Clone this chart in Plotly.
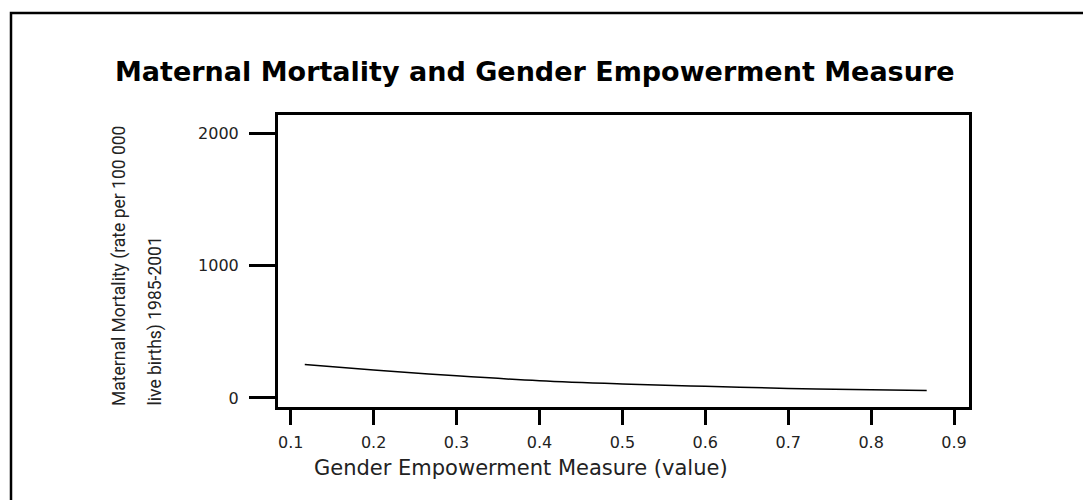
import plotly.graph_objects as go

# fitted curve
gem_value = [0.117, 0.2, 0.3, 0.4, 0.5, 0.6, 0.7, 0.8, 0.867]
maternal_mortality = [252, 212, 167, 130, 106, 88, 72, 62, 57]

x_ticks = [0.1, 0.2, 0.3, 0.4, 0.5, 0.6, 0.7, 0.8, 0.9]
y_ticks = [0, 1000, 2000]

# page body adds ~8px, so everything is laid out 8px up/left
OFF = 8
W, H = 1091, 500
L, R, T, B = 278 - OFF, 1091 - 969 + OFF, 115 - OFF, 500 - 407 + OFF


def px_x(p):
    return (p - OFF - L) / (W - L - R)


def px_y(p):
    return (H - B - (p - OFF)) / (H - T - B)


fig = go.Figure()
fig.add_trace(go.Scatter(x=gem_value, y=maternal_mortality, mode="lines",
                         line=dict(color="black", width=1.5, shape="spline"),
                         showlegend=False, hoverinfo="skip"))

tick_font = dict(family="DejaVu Sans", size=16, color="#222")
fig.update_xaxes(range=[0.0847, 0.918], tickvals=x_ticks, ticktext=[str(v) for v in x_ticks],
                 ticks="outside", ticklen=15, tickwidth=3, tickcolor="black",
                 showline=True, linewidth=3, linecolor="black", mirror=True,
                 showgrid=False, zeroline=False, tickfont=tick_font, ticklabelstandoff=4)
fig.update_yaxes(range=[-68, 2136], tickvals=y_ticks, ticktext=[str(v) for v in y_ticks],
                 ticks="outside", ticklen=26, tickwidth=3, tickcolor="black",
                 showline=True, linewidth=3, linecolor="black", mirror=True,
                 showgrid=False, zeroline=False, tickfont=tick_font, ticklabelstandoff=7)

# outer frame, only left and top visible in the crop
fig.add_shape(type="rect", xref="paper", yref="paper",
              x0=px_x(11), x1=px_x(1200), y0=px_y(600), y1=px_y(13),
              line=dict(color="black", width=2.5), layer="below")

fig.add_annotation(text="<b>Maternal Mortality and Gender Empowerment Measure</b>",
                   xref="paper", yref="paper", x=px_x(113), y=px_y(72),
                   xanchor="left", yanchor="middle", showarrow=False,
                   font=dict(family="DejaVu Sans", size=27, color="black"))
fig.add_annotation(text="Gender Empowerment Measure (value)",
                   xref="paper", yref="paper", x=px_x(521), y=px_y(468),
                   xanchor="center", yanchor="middle", showarrow=False,
                   font=dict(family="DejaVu Sans", size=21, color="#222"))

ytitle_font = dict(family="Liberation Sans Narrow, Roboto, sans-serif", size=17.5, color="#222")
fig.add_annotation(text="Maternal Mortality (rate per 100 000",
                   xref="paper", yref="paper", x=px_x(119), y=px_y(408),
                   xanchor="center", yanchor="bottom", textangle=-90,
                   showarrow=False, font=ytitle_font)
fig.add_annotation(text="live births) 1985-2001",
                   xref="paper", yref="paper", x=px_x(155), y=px_y(408),
                   xanchor="center", yanchor="bottom", textangle=-90,
                   showarrow=False, font=ytitle_font)

fig.update_layout(width=W, height=H, margin=dict(l=L, r=R, t=T, b=B),
                  plot_bgcolor="white", paper_bgcolor="white")

fig.write_html("out.html")
